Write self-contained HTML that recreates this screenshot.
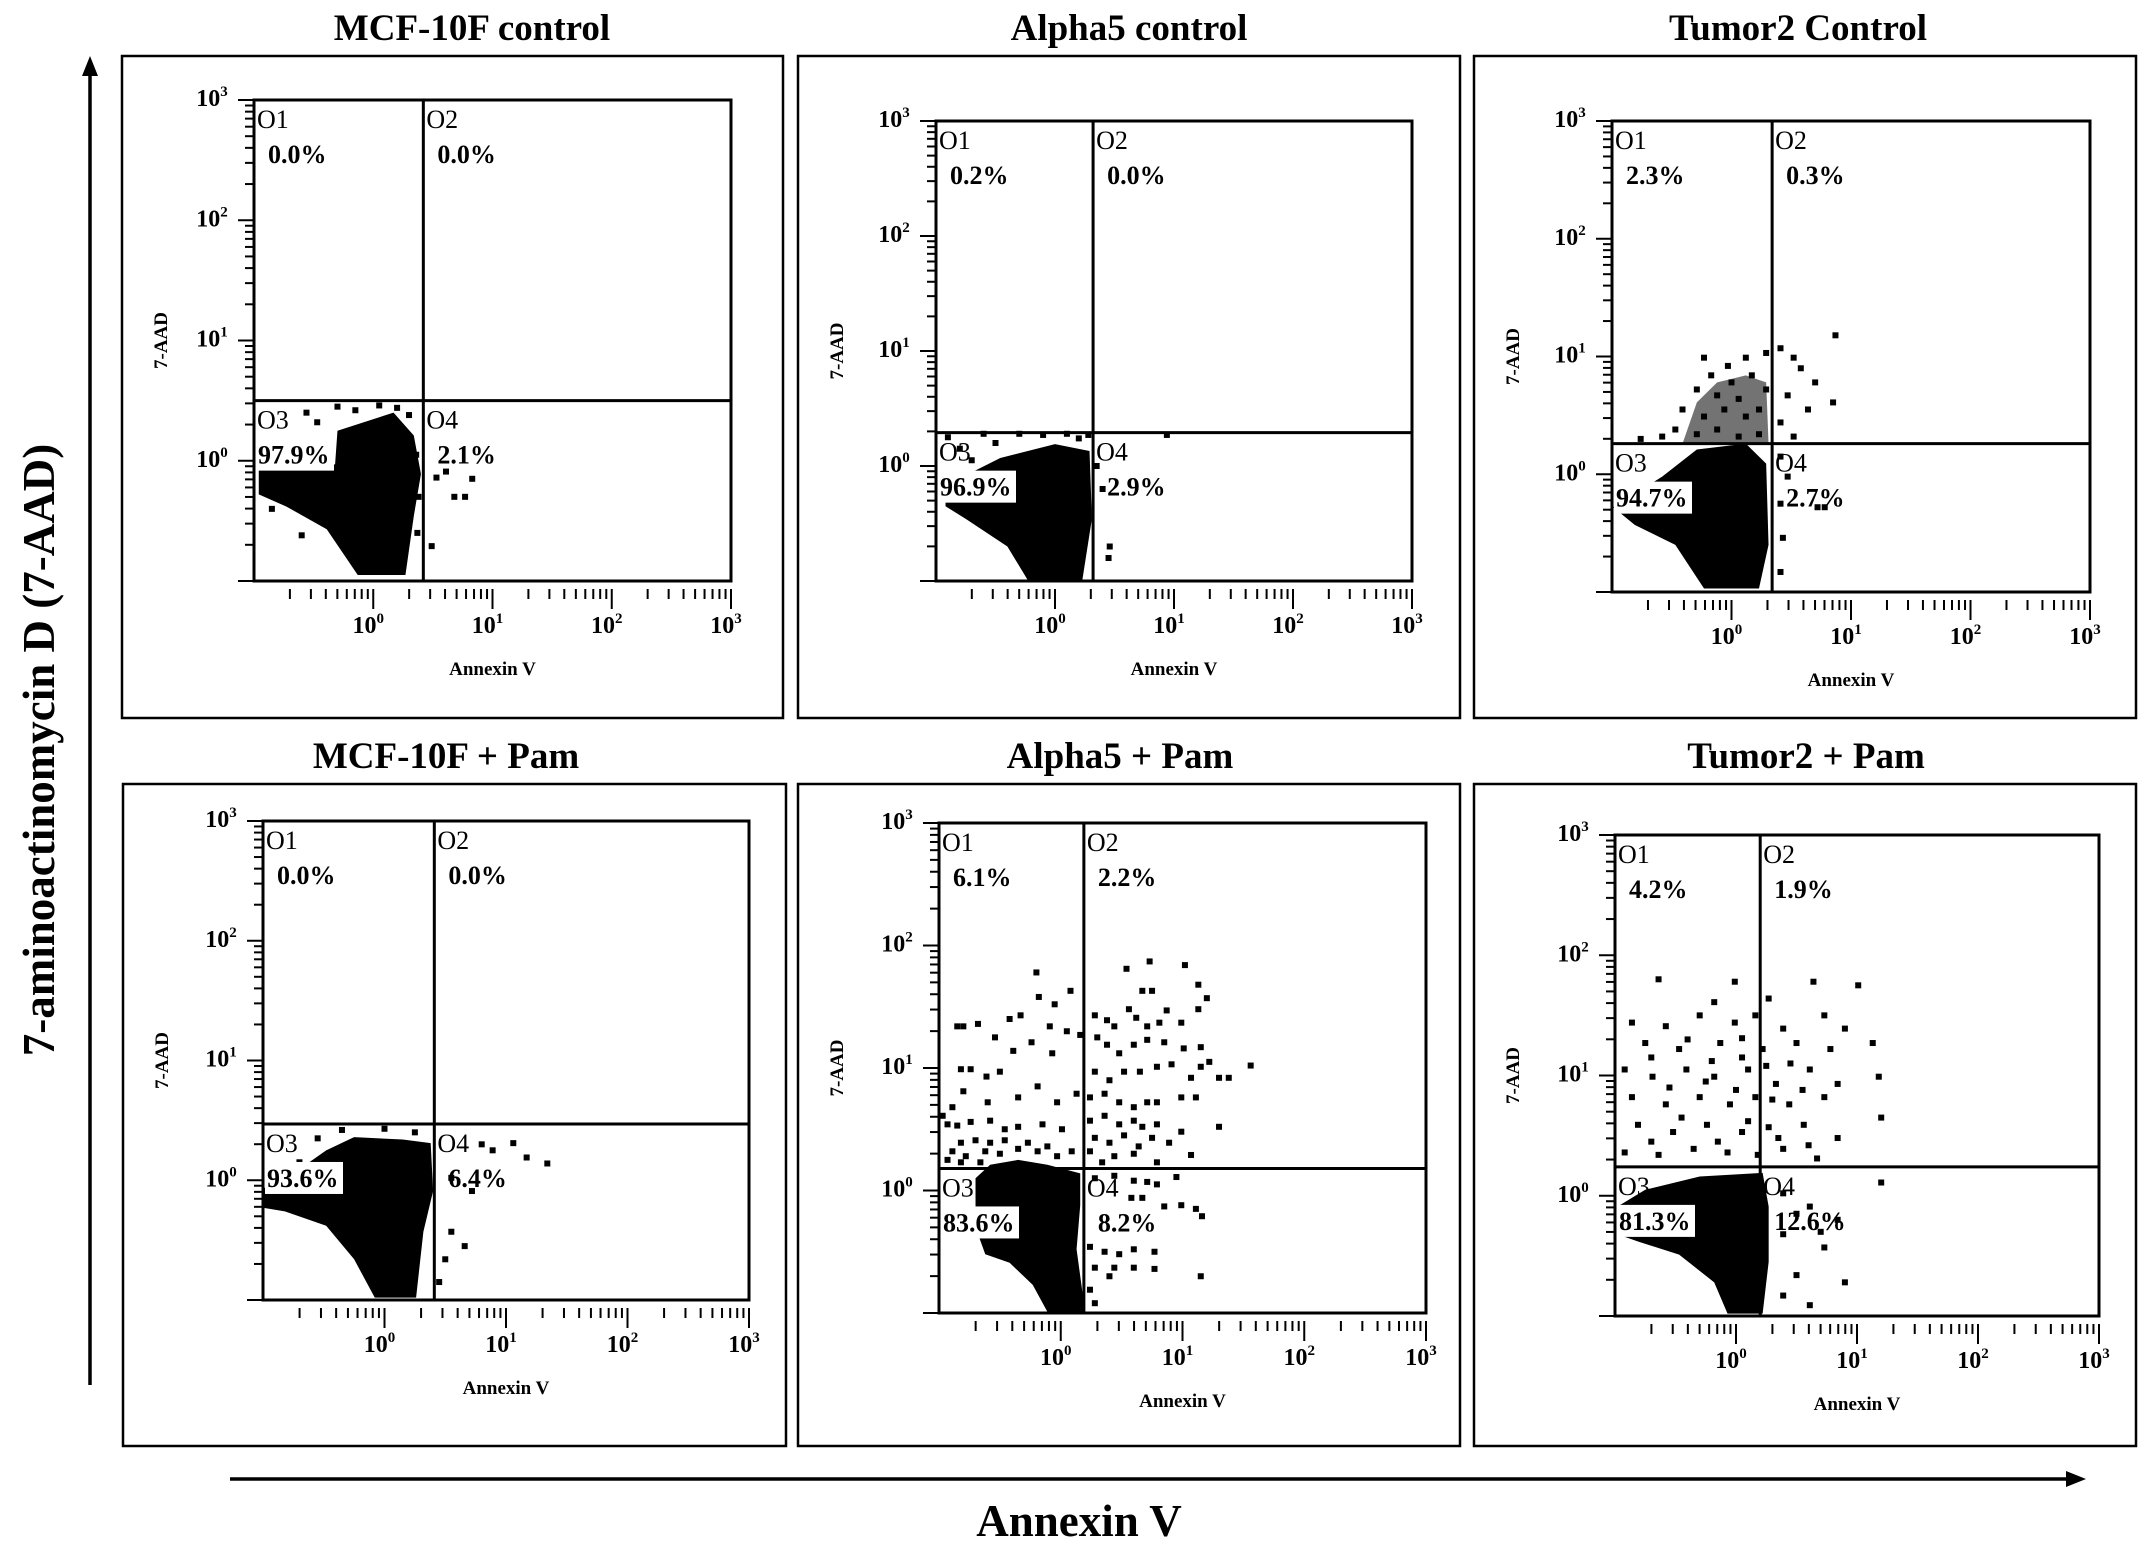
<!DOCTYPE html>
<html><head><meta charset="utf-8"><style>
html,body{margin:0;padding:0;background:#fff;}
svg{display:block;}
text{font-family:"Liberation Serif",serif;}
</style></head><body>
<svg id="fig" width="2150" height="1551" viewBox="0 0 2150 1551" xmlns="http://www.w3.org/2000/svg">
<g id="root"></g>
</svg>
<script>
// ---- data (log10 units) ----
const panelTitles = ["MCF-10F control","Alpha5 control","Tumor2 Control","MCF-10F + Pam","Alpha5 + Pam","Tumor2 + Pam"];
const quadPercents = [
 ["0.0%","0.0%","97.9%","2.1%"],
 ["0.2%","0.0%","96.9%","2.9%"],
 ["2.3%","0.3%","94.7%","2.7%"],
 ["0.0%","0.0%","93.6%","6.4%"],
 ["6.1%","2.2%","83.6%","8.2%"],
 ["4.2%","1.9%","81.3%","12.6%"]
];
const gateX = [0.42,0.32,0.34,0.41,0.19,0.20];
const gateY = [0.50,0.29,0.26,0.47,0.18,0.24];
const tickLabels = ["10","10","10","10"];
const tickExps = ["0","1","2","3"];
const decades = [0,1,2,3];
const blob1 = [[-0.96,-0.07],[-0.32,-0.03],[-0.30,0.25],[0.17,0.40],[0.34,0.21],[0.40,-0.11],[0.34,-0.46],[0.27,-0.95],[-0.13,-0.95],[-0.39,-0.57],[-0.73,-0.38],[-0.96,-0.28]];
const blob2 = [[-0.92,-0.17],[-0.46,0.07],[0,0.19],[0.29,0.13],[0.31,-0.46],[0.23,-0.99],[-0.23,-0.99],[-0.40,-0.70],[-0.75,-0.46],[-0.92,-0.35]];
const blob3 = [[-0.99,-0.28],[-0.58,-0.02],[-0.29,0.21],[0.12,0.26],[0.29,0.09],[0.31,-0.60],[0.23,-0.97],[-0.23,-0.97],[-0.47,-0.60],[-0.81,-0.43]];
const blob4 = [[-1.0,-0.07],[-0.76,0.05],[-0.48,0.25],[-0.25,0.36],[0.15,0.34],[0.38,0.31],[0.40,-0.09],[0.32,-0.43],[0.26,-0.98],[-0.08,-0.98],[-0.25,-0.66],[-0.48,-0.38],[-0.82,-0.26],[-1.0,-0.23]];
const blob5 = [[-0.70,0.10],[-0.58,0.21],[-0.35,0.25],[-0.11,0.21],[0.16,0.14],[0.16,-0.12],[0.13,-0.48],[0.20,-0.99],[-0.11,-0.99],[-0.23,-0.77],[-0.42,-0.59],[-0.62,-0.52],[-0.70,-0.30]];
const blob6 = [[-0.98,-0.09],[-0.75,0.05],[-0.30,0.16],[0.22,0.19],[0.27,-0.09],[0.27,-0.55],[0.22,-0.98],[-0.07,-0.98],[-0.18,-0.72],[-0.47,-0.49],[-0.81,-0.38],[-0.98,-0.32]];
const plume3 = [[-0.41,0.26],[-0.29,0.61],[-0.12,0.78],[0.12,0.84],[0.29,0.78],[0.31,0.26]];
const dots1 = [[-0.56,0.40],[-0.47,0.32],[-0.30,0.45],[-0.15,0.42],[0.05,0.46],[0.20,0.44],[0.30,0.38],[0.36,0.05],[0.38,-0.30],[0.37,-0.60],[0.53,-0.14],[0.61,-0.09],[0.83,-0.15],[0.68,-0.30],[0.77,-0.30],[0.49,-0.71],[-0.85,-0.40],[-0.60,-0.62]];
const dots2 = [[-0.90,0.25],[-0.80,0.15],[-0.60,0.28],[-0.50,0.20],[-0.30,0.28],[-0.10,0.27],[0.10,0.28],[0.20,0.24],[0.28,0.27],[-0.70,0.05],[0.35,0.0],[0.40,-0.20],[0.46,-0.70],[0.45,-0.80],[0.94,0.27]];
const dots3 = [[-0.23,0.99],[-0.03,0.92],[0.12,0.99],[0.29,1.03],[0.41,1.07],[0.52,0.99],[0.87,1.18],[0.58,0.90],[0.70,0.78],[0.85,0.61],[-0.17,0.84],[0,0.78],[0.17,0.84],[-0.29,0.72],[-0.12,0.67],[0.06,0.64],[0.29,0.72],[0.47,0.67],[0.64,0.55],[-0.41,0.55],[-0.23,0.49],[-0.06,0.55],[0.12,0.49],[0.23,0.55],[0.41,0.44],[-0.47,0.38],[-0.29,0.34],[-0.12,0.38],[0.06,0.32],[0.23,0.34],[0.52,0.32],[-0.76,0.30],[-0.58,0.32],[0.41,0.15],[0.47,-0.02],[0.41,-0.25],[0.43,-0.54],[0.41,-0.83],[0.72,-0.28],[0.78,-0.28]];
const dots4 = [[-0.70,0.15],[-0.55,0.35],[-0.35,0.42],[0.0,0.43],[0.25,0.40],[0.55,0.02],[0.72,-0.09],[0.89,0.25],[1.06,0.31],[1.17,0.19],[1.34,0.14],[0.55,-0.43],[0.66,-0.55],[0.50,-0.66],[0.45,-0.85],[0.80,0.30]];
const dots5 = [[-0.20,1.78],[0.08,1.63],[-0.18,1.58],[-0.05,1.52],[-0.42,1.40],[-0.33,1.43],[-0.85,1.34],[-0.80,1.34],[-0.68,1.36],[-0.54,1.25],[-0.24,1.21],[-0.09,1.34],[0.05,1.30],[0.16,1.27],[-0.39,1.14],[-0.07,1.12],[-0.82,0.99],[-0.74,0.99],[-0.61,0.93],[-0.50,0.97],[-0.80,0.81],[-0.19,0.85],[-0.35,0.76],[-0.03,0.72],[0.13,0.79],[-0.89,0.68],[-0.60,0.72],[-0.97,0.61],[-0.93,0.54],[-0.85,0.53],[-0.74,0.56],[-0.58,0.57],[-0.46,0.50],[-0.35,0.52],[-0.15,0.54],[0.01,0.50],[-0.82,0.39],[-0.70,0.41],[-0.58,0.39],[-0.46,0.41],[-0.27,0.39],[-0.11,0.36],[-0.89,0.32],[-0.78,0.28],[-0.62,0.32],[-0.50,0.30],[-0.35,0.34],[-0.19,0.32],[-0.03,0.28],[0.09,0.32],[-0.93,0.25],[-0.82,0.23],[-0.66,0.23],
[0.28,1.43],[0.38,1.39],[0.44,1.34],[0.56,1.48],[0.62,1.41],[0.71,1.34],[0.81,1.37],[0.87,1.47],[0.99,1.37],[1.13,1.48],[0.54,1.81],[0.73,1.87],[1.02,1.84],[0.67,1.63],[0.75,1.63],[1.13,1.68],[1.20,1.57],[0.30,1.25],[0.38,1.19],[0.48,1.12],[0.60,1.19],[0.71,1.23],[0.85,1.21],[1.01,1.16],[1.15,1.17],[1.22,1.05],[1.56,1.02],[1.38,0.92],[1.30,0.92],[1.15,1.01],[1.07,0.92],[0.28,0.97],[0.40,0.90],[0.52,0.97],[0.65,0.97],[0.79,1.01],[0.91,1.03],[0.24,0.76],[0.36,0.79],[0.48,0.72],[0.60,0.68],[0.71,0.72],[0.79,0.72],[0.99,0.76],[1.11,0.76],[0.24,0.57],[0.36,0.61],[0.48,0.54],[0.60,0.57],[0.67,0.52],[0.79,0.54],[0.99,0.48],[1.30,0.52],[0.28,0.43],[0.40,0.39],[0.52,0.45],[0.64,0.36],[0.75,0.43],[0.89,0.39],[0.24,0.32],[0.44,0.28],[0.60,0.30],[0.79,0.23],[1.07,0.29],[0.34,0.23],
[0.28,0.10],[0.44,0.12],[0.60,0.08],[0.71,0.07],[0.79,0.05],[0.95,0.11],[0.58,-0.06],[0.67,-0.06],[0.85,-0.13],[0.99,-0.12],[1.16,-0.21],[1.11,-0.15],[0.24,-0.46],[0.36,-0.50],[0.48,-0.52],[0.60,-0.48],[0.77,-0.50],[0.28,-0.63],[0.44,-0.63],[0.60,-0.63],[0.77,-0.64],[0.40,-0.70],[1.15,-0.70],[0.24,-0.81],[0.28,-0.92]];
const dots6 = [[-0.64,1.80],[-0.01,1.78],[0.64,1.78],[1.01,1.75],[-0.18,1.61],[0.27,1.64],[-0.86,1.44],[-0.58,1.41],[-0.30,1.50],[-0.01,1.44],[0.16,1.50],[0.39,1.39],[0.73,1.50],[0.90,1.39],[-0.75,1.27],[-0.47,1.22],[-0.13,1.27],[0.05,1.31],[0.22,1.22],[0.50,1.27],[0.78,1.22],[1.13,1.27],[-0.92,1.05],[-0.69,0.99],[-0.41,1.05],[-0.18,0.99],[0.10,1.05],[0.33,0.93],[0.61,1.05],[0.84,0.93],[1.18,0.99],[-0.86,0.82],[-0.58,0.76],[-0.30,0.82],[-0.05,0.76],[0.16,0.82],[0.44,0.76],[0.73,0.82],[1.20,0.65],[-0.81,0.59],[-0.52,0.53],[-0.24,0.59],[0.05,0.53],[0.27,0.57],[0.56,0.59],[0.84,0.48],[-0.92,0.36],[-0.64,0.34],[-0.35,0.39],[-0.07,0.36],[0.18,0.34],[0.39,0.39],[0.67,0.31],
[-0.70,1.15],[-0.40,1.30],[-0.20,1.12],[0.05,1.15],[0.25,1.08],[0.45,1.10],[-0.55,0.90],[-0.25,0.95],[0.00,0.88],[0.30,0.80],[0.55,0.88],[-0.70,0.45],[-0.45,0.65],[-0.15,0.45],[0.10,0.62],[0.35,0.48],[0.60,0.42],
[0.39,0.02],[0.61,-0.09],[0.84,-0.20],[1.20,0.11],[0.39,-0.32],[0.73,-0.43],[0.50,-0.66],[0.90,-0.72],[0.39,-0.83],[0.61,-0.91],[0.50,-0.15],[0.70,-0.30]];
const blobs = [blob1,blob2,blob3,blob4,blob5,blob6];
const dotSets = [dots1,dots2,dots3,dots4,dots5,dots6];

// ---- layout ----
const frames = [[122,56,661,662],[798,56,662,662],[1474,56,662,662],[123,784,663,662],[798,784,662,662],[1474,784,662,662]];
const plots = [[254,100,731,581],[936,121,1412,581],[1612,121,2090,592],[263,821,749,1300],[939,823,1426,1313],[1615,835,2099,1316]];
const titlePos = [[472,40],[1129,40],[1798,40],[446,768],[1120,768],[1806,768]];

const NS="http://www.w3.org/2000/svg";
const root=document.getElementById('root');
function mk(tag,attrs,parent){const e=document.createElementNS(NS,tag);for(const k in attrs)e.setAttribute(k,attrs[k]);(parent||root).appendChild(e);return e;}

for(let p=0;p<6;p++){
  const g=mk('g',{});
  
  
  const [fx,fy,fw,fh]=frames[p];
  const fr=mk('rect',{x:fx,y:fy,width:fw,height:fh,fill:'none',stroke:'#000','stroke-width':2.5},g);
  
  
  const t=mk('text',{x:titlePos[p][0],y:titlePos[p][1],'text-anchor':'middle','font-size':37,'font-weight':'bold'},g);
  t.textContent=panelTitles[p];
  
  
  const [L,T,R,B]=plots[p];
  const sx=v=>L+(v+1)/4*(R-L);
  const sy=v=>B-(v+1)/4*(B-T);
  const poly=mk('polygon',{points:blobs[p].map(q=>sx(q[0])+','+sy(q[1])).join(' '),fill:'#000'},g);
  
  
  if(p===2){
    const pl=mk('polygon',{points:plume3.map(q=>sx(q[0])+','+sy(q[1])).join(' '),fill:'#000','fill-opacity':0.55},g);
    
    
  }
  for(const d of dotSets[p]){
    const r=mk('rect',{x:sx(d[0])-3,y:sy(d[1])-3,width:6,height:6,fill:'#000'},g);
    
    
  }
  const box=mk('rect',{x:L,y:T,width:R-L,height:B-T,fill:'none',stroke:'#000','stroke-width':3},g);
  
  
  const gx=sx(gateX[p]), gy=sy(gateY[p]);
  const vl=mk('line',{x1:gx,y1:T,x2:gx,y2:B,stroke:'#000','stroke-width':3},g);
  
  
  const hl=mk('line',{x1:L,y1:gy,x2:R,y2:gy,stroke:'#000','stroke-width':3},g);
  
  
  const qpos=[[L,T],[gx,T],[L,gy],[gx,gy]];
  for(let q=0;q<4;q++){
    const [qx,qy]=qpos[q];
    if(q===2){
      const bg=mk('rect',{x:qx+2,y:qy+38,width:78,height:32,fill:'#fff'},g);
      
      
    }
    const a=mk('text',{x:qx+3,y:qy+28,'font-size':26},g);
    a.textContent='O'+(q+1);
    
    
    const b=mk('text',{x:qx+(q===2?4:14),y:qy+63,'font-size':26,'font-weight':'bold'},g);
    b.textContent=quadPercents[p][q];
    
    
  }
  for(let dec=-1;dec<3;dec++){
    for(let m=1;m<10;m++){
      const v=dec+Math.log10(m);
      if(v<-1)continue;
      const yy=sy(v);
      const len=m===1?16:9;
      const tk=mk('line',{x1:L-len,y1:yy,x2:L,y2:yy,stroke:'#000','stroke-width':2},g);
      
      
    }
  }
  const tt=mk('line',{x1:L-16,y1:T,x2:L,y2:T,stroke:'#000','stroke-width':2},g);
  
  
  for(let dec=-1;dec<3;dec++){
    for(let m=2;m<=10;m++){
      const v=dec+Math.log10(m);
      const xx=sx(v);
      const len=m===10?20:10;
      const tk=mk('line',{x1:xx,y1:B+8,x2:xx,y2:B+8+len,stroke:'#000','stroke-width':2},g);
      
      
    }
  }
  for(let i=0;i<decades.length;i++){
    const xl=mk('text',{x:sx(decades[i])-5,y:B+52,'text-anchor':'middle','font-size':24,'font-weight':'bold'},g);
    xl.textContent=tickLabels[i];
    const sp=mk('tspan',{dy:-10,'font-size':15},xl);
    sp.textContent=tickExps[i];
    
    
    const yl=mk('text',{x:L-42,y:sy(decades[i])+6,'text-anchor':'middle','font-size':24,'font-weight':'bold'},g);
    yl.textContent=tickLabels[i];
    const sp2=mk('tspan',{dy:-10,'font-size':15},yl);
    sp2.textContent=tickExps[i];
    
    
  }
  const xt=mk('text',{x:(L+R)/2,y:B+94,'text-anchor':'middle','font-size':19,'font-weight':'bold'},g);
  xt.textContent='Annexin V';
  
  
  const ym=(T+B)/2;
  const yt=mk('text',{x:fx+45,y:ym,'text-anchor':'middle','font-size':19,'font-weight':'bold',transform:`rotate(-90 ${fx+45} ${ym})`},g);
  yt.textContent='7-AAD';
  
  
}
const va=mk('line',{x1:90,y1:1385,x2:90,y2:72,stroke:'#000','stroke-width':3.5});


const vh=mk('polygon',{points:'90,56 82,76 98,76',fill:'#000'});


const ha=mk('line',{x1:230,y1:1479,x2:2070,y2:1479,stroke:'#000','stroke-width':3.5});


const hh=mk('polygon',{points:'2086,1479 2066,1471 2066,1487',fill:'#000'});


const gxT=mk('text',{x:1079,y:1536,'text-anchor':'middle','font-size':45,'font-weight':'bold'});
gxT.textContent='Annexin V';


const gyT=mk('text',{x:54,y:750,'text-anchor':'middle','font-size':45,'font-weight':'bold',transform:'rotate(-90 54 750)'});
gyT.textContent='7-aminoactinomycin D (7-AAD)';


</script>
</body></html>
